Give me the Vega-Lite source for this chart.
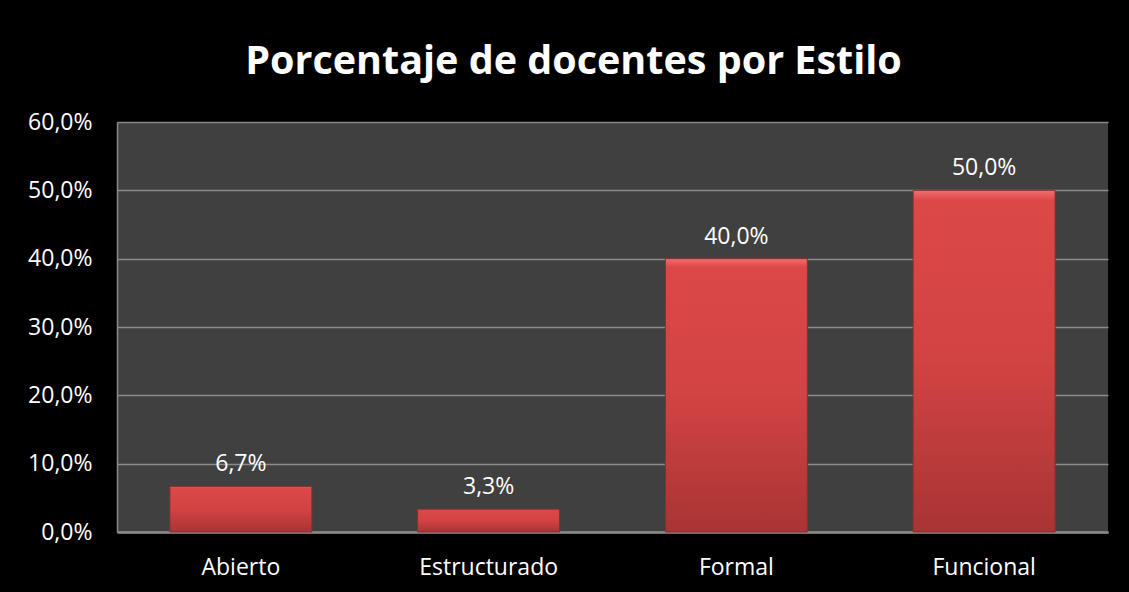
{
  "$schema": "https://vega.github.io/schema/vega-lite/v6.json",
  "width": 991,
  "height": 410,
  "autosize": {"type": "none"},
  "padding": {"left": 117, "top": 122, "right": 21, "bottom": 60},
  "background": "#000000",
  "config": {
    "locale": {"number": {"decimal": ",", "thousands": ".", "grouping": [3], "currency": ["", " €"]}},
    "view": {"fill": "#404040", "stroke": null},
    "font": "Open Sans"
  },
  "title": {
    "text": "Porcentaje de docentes por Estilo",
    "color": "#ffffff",
    "font": "Open Sans",
    "fontSize": 39.5,
    "fontWeight": "bold",
    "anchor": "middle",
    "dx": -39,
    "offset": 29
  },
  "data": {
    "values": [
      {"estilo": "Abierto", "pct": 0.0667},
      {"estilo": "Estructurado", "pct": 0.0333},
      {"estilo": "Formal", "pct": 0.4},
      {"estilo": "Funcional", "pct": 0.5}
    ]
  },
  "encoding": {
    "x": {
      "field": "estilo",
      "type": "nominal",
      "sort": null,
      "scale": {"paddingInner": 0.427, "paddingOuter": 0.2135},
      "axis": {
        "title": null,
        "labelAngle": 0,
        "labelColor": "#ffffff",
        "labelFont": "Open Sans",
        "labelFontSize": 23,
        "labelPadding": 24,
        "ticks": false,
        "domainColor": "#8a8a8a",
        "domainWidth": 2.5
      }
    },
    "y": {
      "field": "pct",
      "type": "quantitative",
      "scale": {"domain": [0, 0.6]},
      "axis": {
        "title": null,
        "format": ".1%",
        "values": [0, 0.1, 0.2, 0.3, 0.4, 0.5, 0.6],
        "labelColor": "#ffffff",
        "labelFont": "Open Sans",
        "labelFontSize": 23,
        "labelPadding": 25,
        "ticks": false,
        "domainColor": "#8a8a8a",
        "domainWidth": 1.5,
        "gridColor": "#8a8a8a",
        "gridWidth": 1.5
      }
    }
  },
  "layer": [
    {
      "mark": {
        "type": "bar",
        "stroke": "#8f2c2c",
        "strokeWidth": 1,
        "color": {
          "gradient": "linear",
          "x1": 0, "y1": 0, "x2": 0, "y2": 1,
          "stops": [
            {"offset": 0, "color": "#f07070"},
            {"offset": 0.03, "color": "#dc4848"},
            {"offset": 0.5, "color": "#d24343"},
            {"offset": 1, "color": "#a83434"}
          ]
        }
      }
    },
    {
      "mark": {
        "type": "text",
        "baseline": "bottom",
        "dy": -10,
        "color": "#ffffff",
        "font": "Open Sans",
        "fontSize": 23
      },
      "encoding": {
        "text": {"field": "pct", "type": "quantitative", "format": ".1%"}
      }
    }
  ]
}
